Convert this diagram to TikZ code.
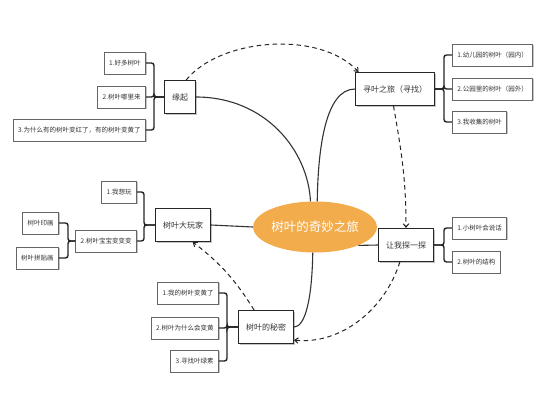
\documentclass[tikz,border=0pt]{standalone}
\usepackage{fontspec}
\setmainfont{Noto Sans CJK SC}
\usetikzlibrary{shapes.geometric,shadows,arrows.meta}
\definecolor{tourorange}{RGB}{243,172,76}

\begin{document}
\begin{tikzpicture}[x=1pt, y=-1pt,
	every node/.style={font=\fontsize{6.5}{7}\selectfont, text=black!80},
	leafbox/.style={draw=black!60, fill=white, line width=0.7pt, minimum height=22pt, inner xsep=5pt, inner ysep=0pt, drop shadow={shadow xshift=1.2pt, shadow yshift=-1.2pt, fill=black!45}},
	branchbox/.style={draw=black!85, fill=white, line width=1pt, minimum height=33pt, inner xsep=7.5pt, font=\fontsize{8}{9}\selectfont, drop shadow={shadow xshift=1.2pt, shadow yshift=-1.2pt, fill=black!45}},
	hub/.style={ellipse, fill=tourorange, minimum width=105pt, minimum height=51pt, inner sep=0pt, text=white, font=\fontsize{12.5}{14}\selectfont},
	link/.style={line width=1.1pt, black!80},
	brk/.style={line width=1.4pt, black!85, rounded corners=2.5pt},
	flow/.style={line width=1pt, black!85, dash pattern=on 4.5pt off 3.5pt, -{Straight Barb[length=3.5pt, width=5.5pt]}}]
	\useasboundingbox[fill=white] (0,0) rectangle (550,400);
	% centre and branches
	\node[hub] (hub) at (315,227) {树叶的奇妙之旅};
	\node[branchbox] (origin) at (180,97) {缘起};
	\node[branchbox] (seek) at (395,89) {寻叶之旅（寻找）};
	\node[branchbox] (player) at (183,225) {树叶大玩家};
	\node[branchbox] (probe) at (406,245) {让我探一探};
	\node[branchbox] (secret) at (266,327) {树叶的秘密};
	% leaves
	\node[leafbox, anchor=east] (o1) at (146,63) {1.好多树叶};
	\node[leafbox, anchor=east] (o2) at (146,97) {2.树叶哪里来};
	\node[leafbox, anchor=east] (o3) at (146,130) {3.为什么有的树叶变红了，有的树叶变黄了};
	\node[leafbox, anchor=west] (s1) at (452,55) {1.幼儿园的树叶（园内）};
	\node[leafbox, anchor=west] (s2) at (452,89) {2.公园里的树叶（园外）};
	\node[leafbox, anchor=west] (s3) at (452,122) {3.我收集的树叶};
	\node[leafbox, anchor=east] (p1) at (137,192) {1.我想玩};
	\node[leafbox, anchor=east] (p2) at (137,241) {2.树叶宝宝变变变};
	\node[leafbox, anchor=east] (q1) at (59,223) {树叶印画};
	\node[leafbox, anchor=east] (q2) at (59,258) {树叶拼贴画};
	\node[leafbox, anchor=west] (r1) at (452,228) {1.小树叶会说话};
	\node[leafbox, anchor=west] (r2) at (452,262) {2.树叶的结构};
	\node[leafbox, anchor=east] (m1) at (219,293) {1.我的树叶变黄了};
	\node[leafbox, anchor=east] (m2) at (219,328) {2.树叶为什么会变黄};
	\node[leafbox, anchor=east] (m3) at (219,361) {3.寻找叶绿素};
	% brackets
	\foreach \l in {o1,o2,o3} {\draw[brk] (\l.east) -- ++(8,0) |- (origin.west);}
	\foreach \l in {s1,s2,s3} {\draw[brk] (\l.west) -- ++(-8,0) |- (seek.east);}
	\foreach \l in {p1,p2} {\draw[brk] (\l.east) -- ++(7,0) |- (player.west);}
	\foreach \l in {q1,q2} {\draw[brk] (\l.east) -- ++(9,0) |- (p2.west);}
	\foreach \l in {r1,r2} {\draw[brk] (\l.west) -- ++(-8,0) |- (probe.east);}
	\foreach \l in {m1,m2,m3} {\draw[brk] (\l.east) -- ++(8,0) |- (secret.west);}
	% links to the centre
	\draw[link] (origin.east) .. controls (265,97) and (308,150) .. (hub.100);
	\draw[link] (hub.85) .. controls (318,150) and (325,89) .. (seek.west);
	\draw[link] (player.east) -- (hub.west);
	\draw[link] (hub.-23) -- (probe.west);
	\draw[link] (hub.265) .. controls (312,300) and (305,327) .. (secret.east);
	% order of the journey
	\draw[flow] (origin.70) .. controls (220,38) and (320,30) .. (seek.155);
	\draw[flow] (seek.-95) to[out=-80, in=90] (probe.north);
	\draw[flow] (probe.-110) .. controls (385,310) and (340,345) .. (secret.-25);
	\draw[flow] (secret.125) to[bend right=10] (player.-60);
\end{tikzpicture}
\end{document}
